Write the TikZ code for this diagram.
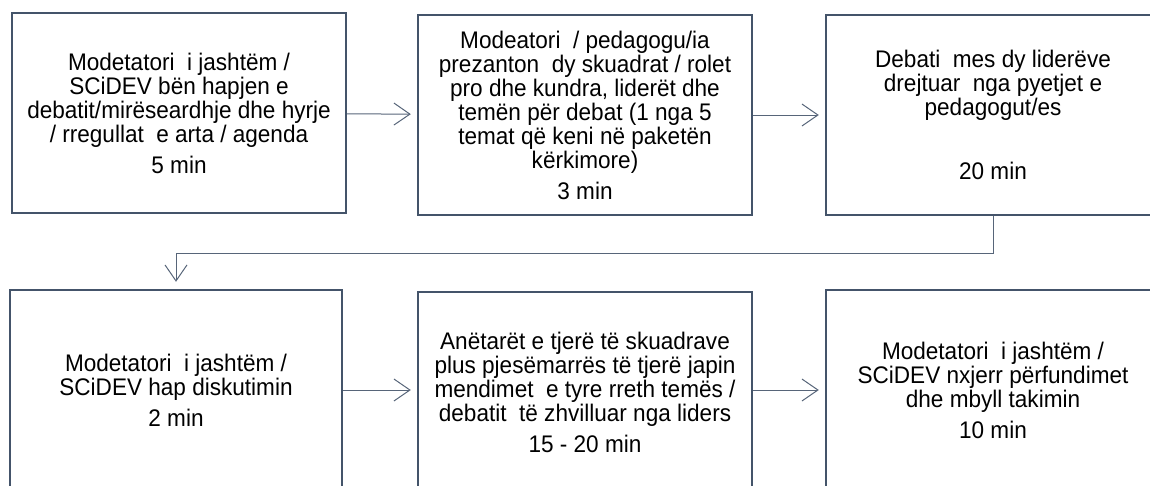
\documentclass[tikz,border=0pt]{standalone}
\usepackage{fontspec}
\setmainfont[FakeStretch=0.94]{Liberation Sans}
\usepackage{xcolor}
\usetikzlibrary{arrows.meta,positioning}
\definecolor{slate}{HTML}{44546A}

\begin{document}
\begin{tikzpicture}[
    x=1pt,y=-1pt,
    box/.style={rectangle,draw=slate,line width=2.4pt,minimum width=334pt,minimum height=200pt,align=center,inner sep=0pt,font=\fontsize{24}{24}\selectfont},
    arrow/.style={-{Straight Barb[length=16pt,width=22pt]},draw=slate!90,line width=1pt,shorten >=6pt}
]
    \useasboundingbox (0,0) rectangle (1150,485);
    \clip (0,0) rectangle (1150,485);

    % Row 1: opening, presentation, debate
    \node[box] (hapja) at (179,113) {Modetatori~ i jashtëm /\\SCiDEV bën hapjen e\\debatit/mirëseardhje dhe hyrje\\/ rregullat~ e arta / agenda\\[7pt]5 min};
    \node[box] (prezantimi) at (585,115) {Modeatori~ / pedagogu/ia\\prezanton~ dy skuadrat / rolet\\pro dhe kundra, liderët dhe\\temën për debat (1 nga 5\\temat që keni në paketën\\kërkimore)\\[7pt]3 min};
    \draw[arrow] (hapja) -- (prezantimi);

    \node[box] (debati) at (993,115) {Debati~ mes dy liderëve\\drejtuar~ nga pyetjet e\\pedagogut/es\\[40pt]20 min};
    \draw[arrow] (prezantimi) -- (debati);

    % Row 2: discussion, opinions, closing
    \node[box,minimum width=332pt] (diskutimi) at (176,390) {Modetatori~ i jashtëm /\\SCiDEV hap diskutimin\\[7pt]2 min};
    \draw[arrow,shorten >=7pt] (debati.south) -- (993,253) -- (176,253) -- (diskutimi.north);

    \node[box] (mendimet) at (585,392) {Anëtarët e tjerë të skuadrave\\plus pjesëmarrës të tjerë japin\\mendimet~ e tyre rreth temës /\\debatit~ të zhvilluar nga liders\\[7pt]15 - 20 min};
    \draw[arrow] (diskutimi) -- (diskutimi -| mendimet.west);

    \node[box] (mbyllja) at (993,390) {Modetatori~ i jashtëm /\\SCiDEV nxjerr përfundimet\\dhe mbyll takimin\\[7pt]10 min};
    \draw[arrow] (mendimet.east |- diskutimi) -- (mbyllja);
\end{tikzpicture}
\end{document}
